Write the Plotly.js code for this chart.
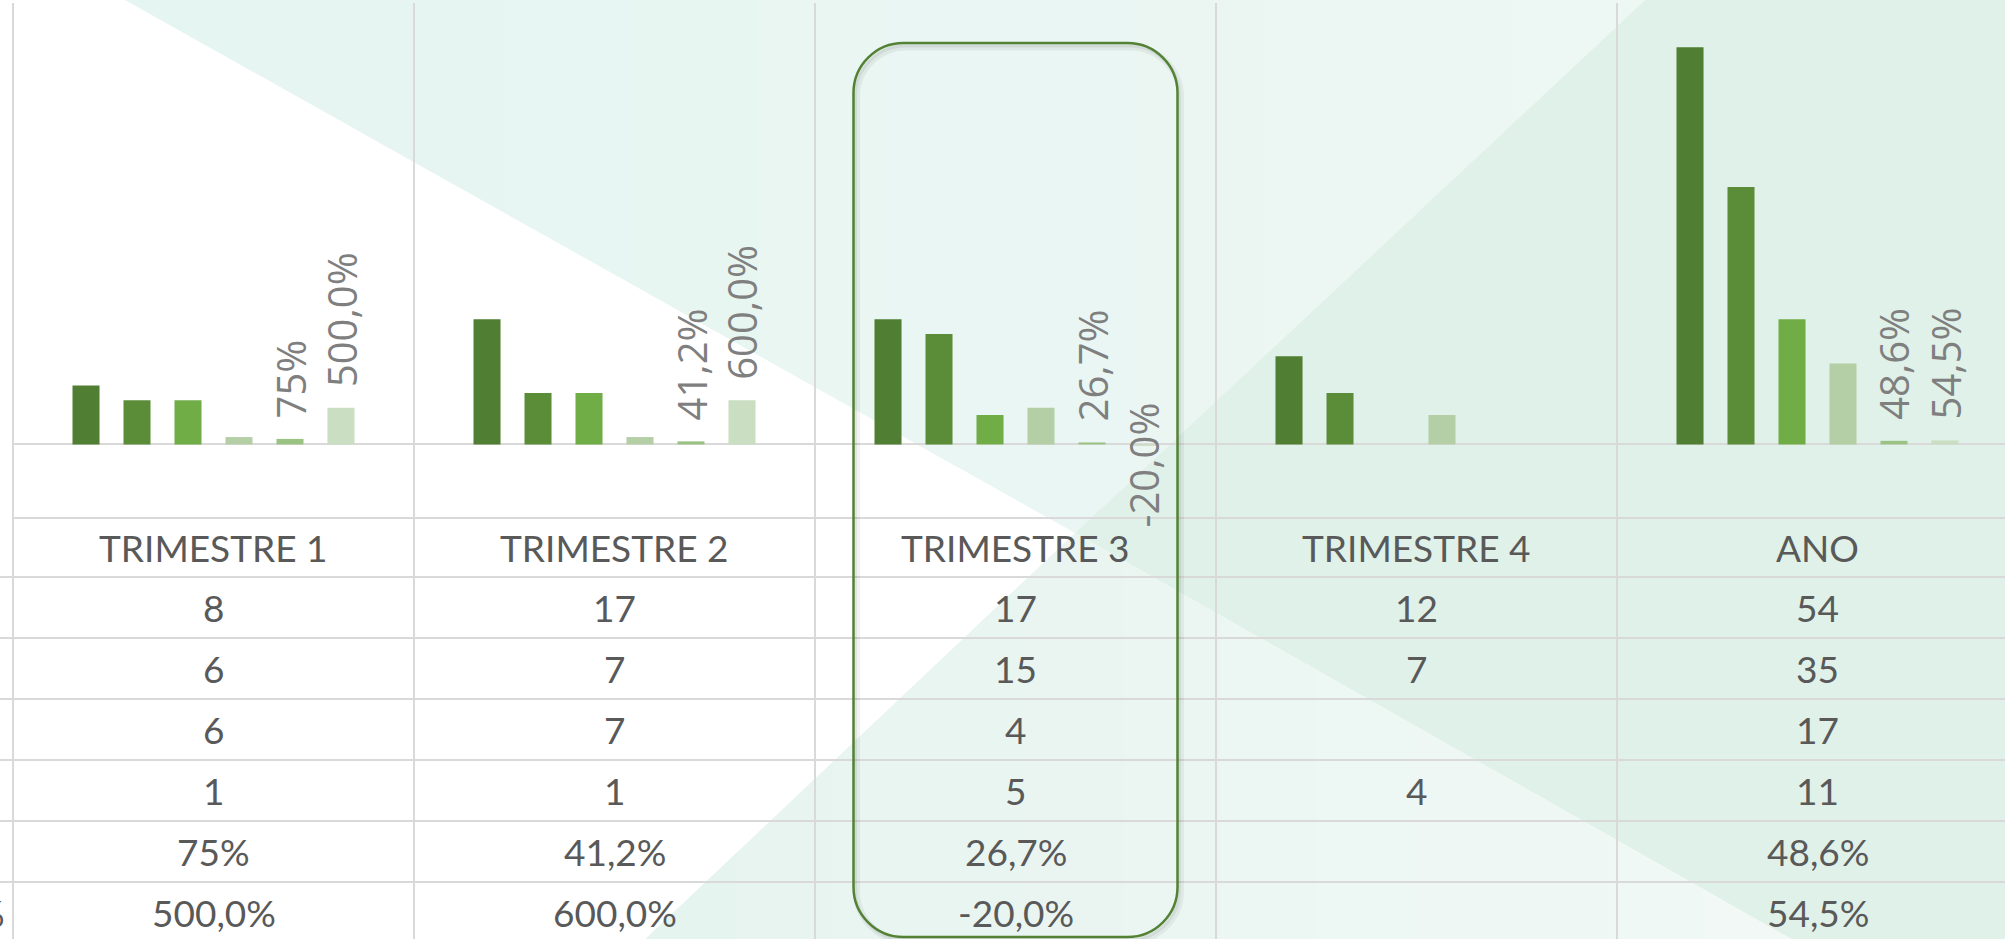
<!DOCTYPE html>
<html>
<head>
<meta charset="utf-8">
<script src="https://cdn.plot.ly/plotly-3.0.1.min.js"></script>
<style>
  html, body { margin: 0; padding: 0; overflow: hidden; background: #ffffff; }
  #chart { width: 2100px; height: 939px; }
</style>
</head>
<body>
<div id="chart"></div>
<script>
// ---------- DATA ----------
const categories = ['TRIMESTRE 1', 'TRIMESTRE 2', 'TRIMESTRE 3', 'TRIMESTRE 4', 'ANO'];
const serie1 = [8, 17, 17, 12, 54];
const serie2 = [6, 7, 15, 7, 35];
const serie3 = [6, 7, 4, null, 17];
const serie4 = [1, 1, 5, 4, 11];
const serie5 = [0.75, 0.412, 0.267, null, 0.486];
const serie6 = [5.0, 6.0, -0.2, null, 0.545];
const serie5Labels = ['75%', '41,2%', '26,7%', '', '48,6%'];
const serie6Labels = ['500,0%', '600,0%', '-20,0%', '', '54,5%'];
const seriesNames = ['Série 1', 'Série 2', 'Série 3', 'Série 4', 'Série 5', 'Série 6'];
const lastRowLabelTail = '%';

// ---------- STYLE / GEOMETRY ----------
const W = 2100, H = 939;
const ML = 13, MR = 82, MT = 3, MB = 421;
const plotW = W - ML - MR, plotH = H - MT - MB;
const xRange = [-0.5, categories.length - 0.5];
const yRange = [-10, 60];
const bargap = 0.237, bargroupgap = 0.47;
const colors = ['#507e32', '#5b8d39', '#70ad47', '#b4cfa5', '#9ac283', '#cadec1'];
const gridCol = '#d9d9d9';
const tableFont = {family: 'Lato, "Open Sans", sans-serif', size: 37, color: '#595959'};
const labelFont = {family: '"Open Sans", "DejaVu Sans", sans-serif', size: 40, color: '#7f7f7f'};

const px2x = px => (px - ML) / plotW;
const py2y = py => (H - MB - py) / plotH;
const d2paperX = xd => (xd - xRange[0]) / (xRange[1] - xRange[0]);

const allSeries = [serie1, serie2, serie3, serie4, serie5, serie6];
const nS = allSeries.length;
const groupW = 1 - bargap;
const slot = groupW / nS;
const barOffset = j => -groupW / 2 + (j + 0.5) * slot;

// ---------- TRACES ----------
const traces = allSeries.map((vals, j) => ({
  type: 'bar',
  name: seriesNames[j],
  x: categories,
  y: vals,
  marker: {color: colors[j], line: {width: 0}},
  hoverinfo: 'none'
}));

// ---------- BACKGROUND SHAPES ----------
function lerpColor(a, b, t) {
  const pa = [1, 3, 5].map(i => parseInt(a.substr(i, 2), 16));
  const pb = [1, 3, 5].map(i => parseInt(b.substr(i, 2), 16));
  const c = pa.map((v, i) => Math.round(v + (pb[i] - v) * t));
  return 'rgb(' + c.join(',') + ')';
}
function clipX(poly, xv, keepGreater) {
  const out = [];
  for (let i = 0; i < poly.length; i++) {
    const a = poly[i], b = poly[(i + 1) % poly.length];
    const ina = keepGreater ? a[0] >= xv : a[0] <= xv;
    const inb = keepGreater ? b[0] >= xv : b[0] <= xv;
    if (ina) out.push(a);
    if (ina !== inb) {
      const t = (xv - a[0]) / (b[0] - a[0]);
      out.push([xv, a[1] + t * (b[1] - a[1])]);
    }
  }
  return out;
}
function polyPath(poly) {
  return 'M' + poly.map(p => px2x(p[0]).toFixed(5) + ',' + py2y(p[1]).toFixed(5)).join(' L') + ' Z';
}
const shapes = [];
function gradientPoly(poly, x0, x1, c0, c1, n) {
  for (let k = 0; k < n; k++) {
    const xa = x0 + (x1 - x0) * k / n, xb = x0 + (x1 - x0) * (k + 1) / n;
    let p = clipX(poly, k === 0 ? -1e5 : xa, true);
    p = clipX(p, k === n - 1 ? 1e5 : xb + 0.6, false);
    if (p.length < 3) continue;
    const col = lerpColor(c0, c1, n === 1 ? 0 : k / (n - 1));
    shapes.push({type: 'path', xref: 'paper', yref: 'paper', layer: 'below',
      path: polyPath(p), fillcolor: col, line: {width: 0}});
  }
}
// diagonal lines (pixel space)
const D1a = [125, 0], D1b = [1800, 939];
const D2a = [1645, 0], D2b = [640, 939];
const X = [1075, 533];
gradientPoly([D1a, D2a, X], 125, 1645, '#e5f5f2', '#edf7f3', 12);
gradientPoly([D2a, [W + 5, -5], [W + 5, H + 5], [D1b[0], H + 5], X], 1075, W, '#dff1e8', '#e1f1e8', 1);
gradientPoly([X, [D1b[0], H + 5], [D2b[0], H + 5]], 640, 1800, '#e6f4f0', '#f1f8f5', 12);

// ---------- TABLE GRID ----------
for (let k = 0; k <= categories.length; k++) {
  const xp = d2paperX(k - 0.5);
  shapes.push({type: 'line', xref: 'paper', yref: 'paper', layer: 'below',
    x0: xp, x1: xp, y0: 1, y1: py2y(H + 5), line: {color: gridCol, width: 2}});
}
const rowLines = [518, 577, 638, 699, 760, 821, 882];
rowLines.forEach((py, i) => {
  shapes.push({type: 'line', xref: 'paper', yref: 'paper', layer: 'below',
    x0: i === 0 ? px2x(ML) : px2x(-2), x1: px2x(W + 2), y0: py2y(py), y1: py2y(py),
    line: {color: gridCol, width: 2}});
});

// ---------- HIGHLIGHT ROUNDED RECT ----------
function roundRect(x0, y0, x1, y1, r) {
  const k = 0.5523 * r;
  const pt = (x, y) => px2x(x).toFixed(5) + ',' + py2y(y).toFixed(5);
  return 'M' + pt(x0 + r, y0) + ' L' + pt(x1 - r, y0) +
    ' C' + pt(x1 - r + k, y0) + ' ' + pt(x1, y0 + r - k) + ' ' + pt(x1, y0 + r) +
    ' L' + pt(x1, y1 - r) +
    ' C' + pt(x1, y1 - r + k) + ' ' + pt(x1 - r + k, y1) + ' ' + pt(x1 - r, y1) +
    ' L' + pt(x0 + r, y1) +
    ' C' + pt(x0 + r - k, y1) + ' ' + pt(x0, y1 - r + k) + ' ' + pt(x0, y1 - r) +
    ' L' + pt(x0, y0 + r) +
    ' C' + pt(x0, y0 + r - k) + ' ' + pt(x0 + r - k, y0) + ' ' + pt(x0 + r, y0) + ' Z';
}
const hlCat = 2;
const hlHalf = 0.404;
const hlX0 = ML + d2paperX(hlCat - hlHalf) * plotW;
const hlX1 = ML + d2paperX(hlCat + hlHalf) * plotW;
const hlY0 = 43, hlY1 = 937, hlR = 50;
shapes.push({type: 'path', xref: 'paper', yref: 'paper', layer: 'above',
  path: roundRect(hlX0 + 3, hlY0 + 4, hlX1 + 3, hlY1 + 4, hlR), line: {color: 'rgba(0,0,0,0.05)', width: 7}});
shapes.push({type: 'path', xref: 'paper', yref: 'paper', layer: 'above',
  path: roundRect(hlX0 + 2, hlY0 + 3, hlX1 + 2, hlY1 + 3, hlR), line: {color: 'rgba(0,0,0,0.06)', width: 3}});
shapes.push({type: 'path', xref: 'paper', yref: 'paper', layer: 'above',
  path: roundRect(hlX0, hlY0, hlX1, hlY1, hlR), line: {color: '#548235', width: 2.5}});

// ---------- ANNOTATIONS ----------
const annotations = [];
// data labels (series 5 and 6)
[[serie5, serie5Labels, 4], [serie6, serie6Labels, 5]].forEach(([vals, labs, j]) => {
  vals.forEach((v, i) => {
    if (v === null || labs[i] === '') return;
    annotations.push({xref: 'x', yref: 'y', x: i + barOffset(j), y: v,
      text: labs[i], textangle: -90, showarrow: false,
      xanchor: 'center', yanchor: v >= 0 ? 'bottom' : 'top', yshift: v >= 0 ? 19 : 46,
      font: labelFont});
  });
});
// table
const fmtInt = v => (v === null ? '' : String(v));
const tableRows = [
  categories,
  serie1.map(fmtInt), serie2.map(fmtInt), serie3.map(fmtInt), serie4.map(fmtInt),
  serie5Labels, serie6Labels
];
const rowCenters = rowLines.map((py, i) => py + ((rowLines[i + 1] || py + 61) - py) / 2);
tableRows.forEach((row, r) => {
  row.forEach((txt, i) => {
    if (txt === '') return;
    annotations.push({xref: 'x', yref: 'paper', x: i, y: py2y(rowCenters[r]),
      text: txt, showarrow: false, xanchor: 'center', yanchor: 'middle', font: tableFont});
  });
});
// cut-off row label at far left (last row)
annotations.push({xref: 'paper', yref: 'paper', x: px2x(7), y: py2y(rowCenters[6]),
  text: lastRowLabelTail, showarrow: false, xanchor: 'right', yanchor: 'middle', font: tableFont});

// ---------- LAYOUT ----------
const layout = {
  width: W, height: H,
  margin: {l: ML, r: MR, t: MT, b: MB, pad: 0},
  paper_bgcolor: '#ffffff',
  plot_bgcolor: 'rgba(0,0,0,0)',
  showlegend: false,
  barmode: 'group',
  bargap: bargap,
  bargroupgap: bargroupgap,
  xaxis: {type: 'category', range: xRange, showgrid: false, zeroline: false,
    showline: false, showticklabels: false, ticks: '', fixedrange: true},
  yaxis: {range: yRange, showgrid: false, zeroline: true, zerolinecolor: gridCol,
    zerolinewidth: 2, showline: false, showticklabels: false, ticks: '', fixedrange: true},
  shapes: shapes,
  annotations: annotations
};

Plotly.newPlot('chart', traces, layout, {displayModeBar: false, staticPlot: true});
</script>
</body>
</html>
